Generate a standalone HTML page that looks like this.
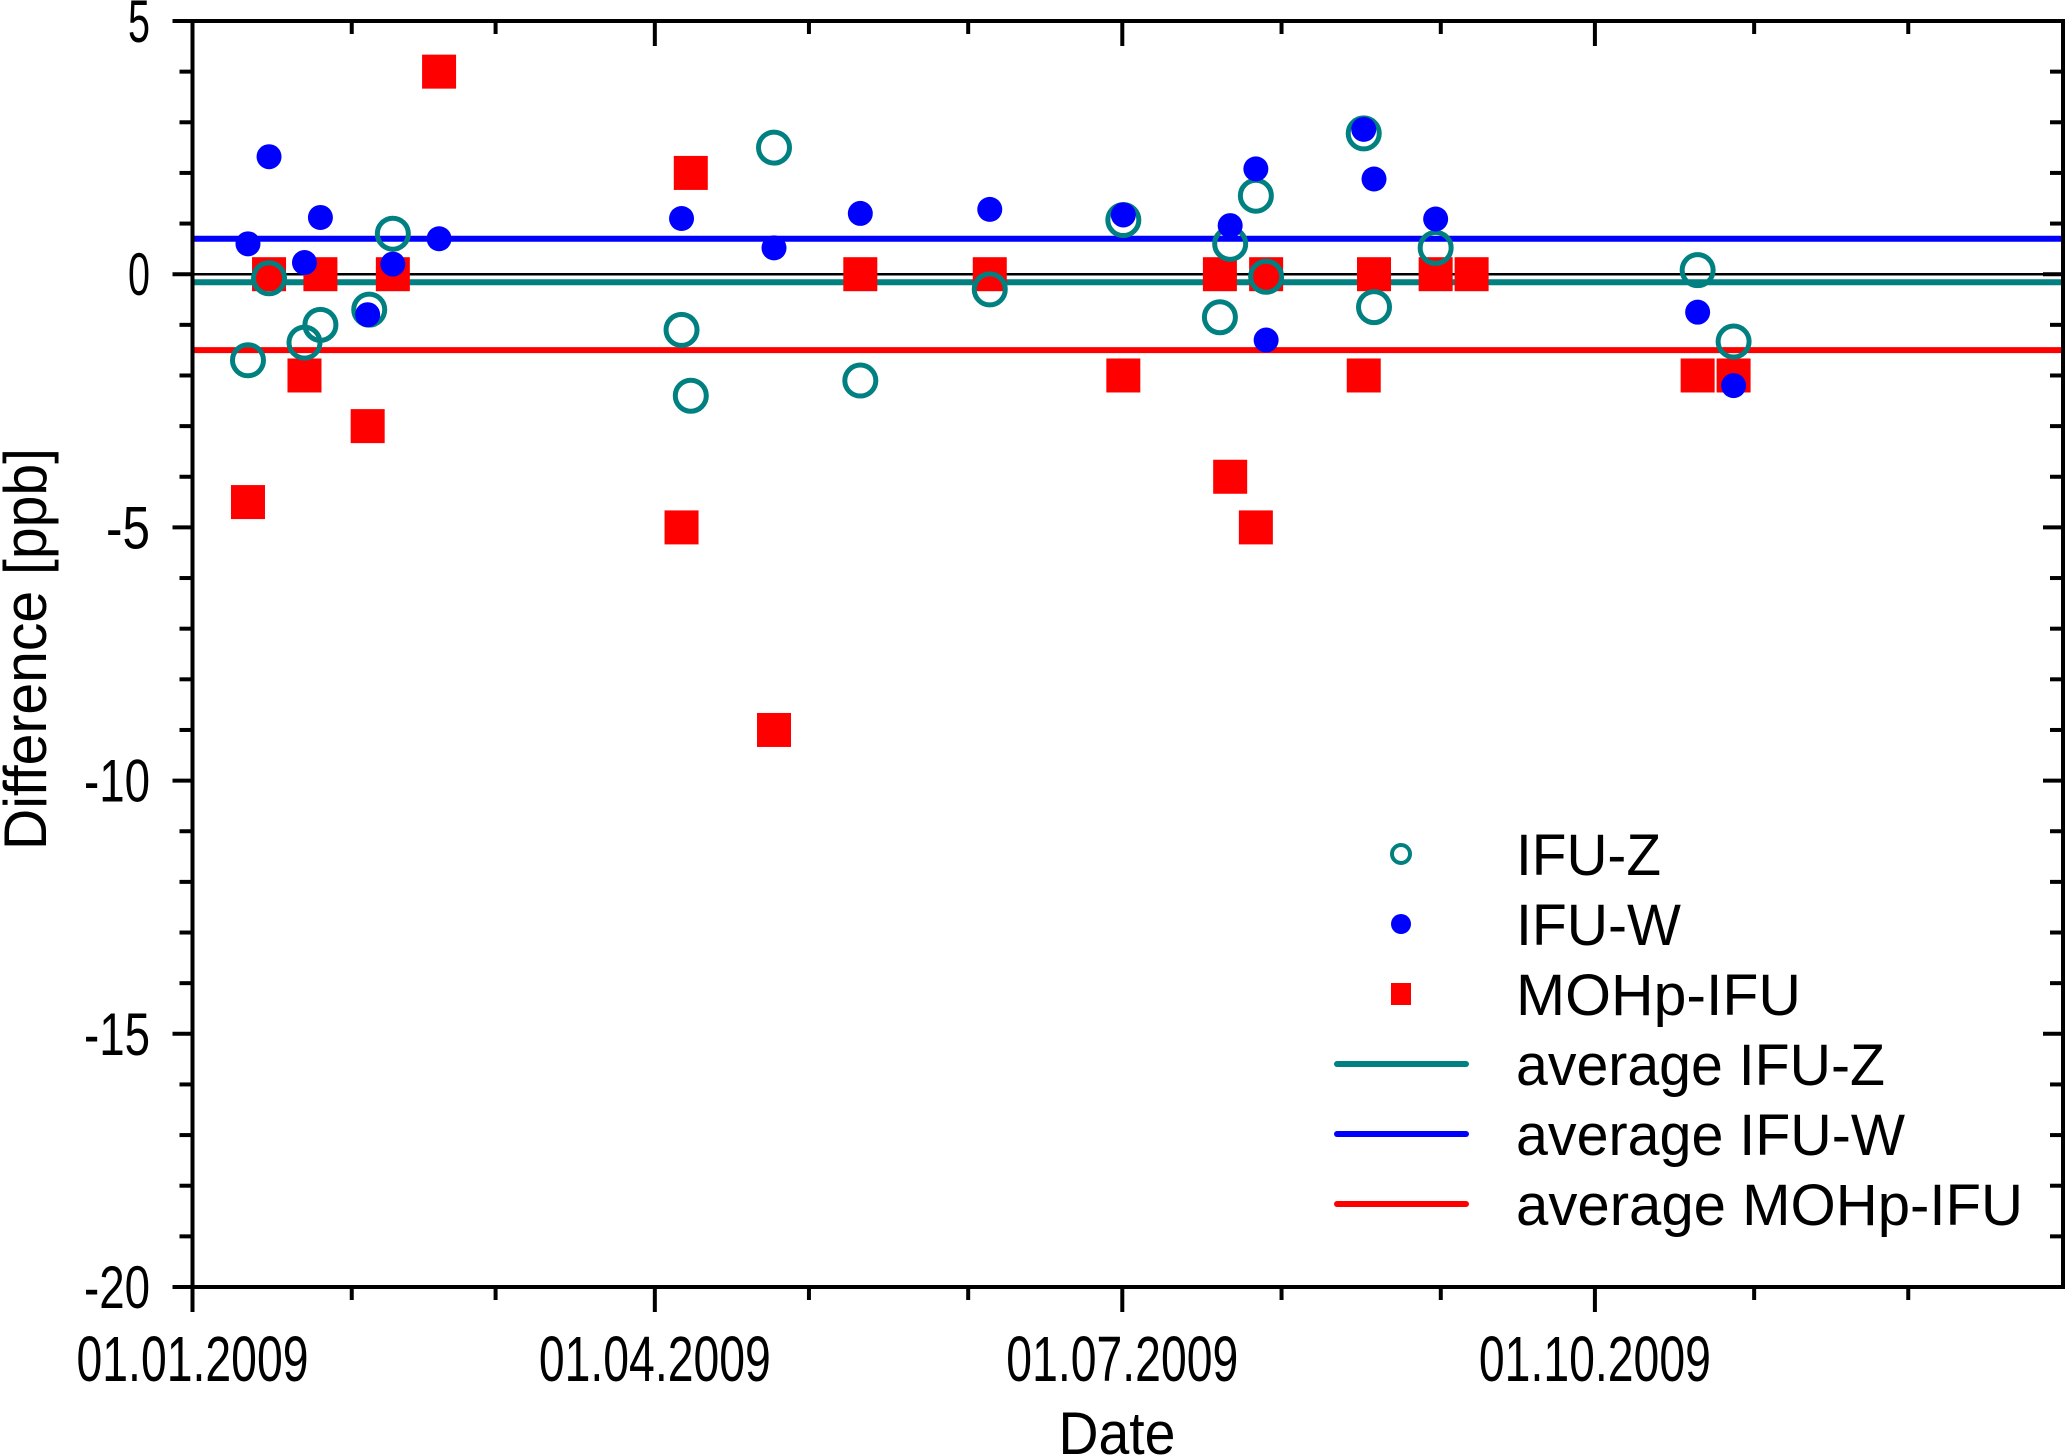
<!DOCTYPE html>
<html><head><meta charset="utf-8"><style>
html,body{margin:0;padding:0;background:#fff;}
svg{display:block;font-family:"Liberation Sans",Arial,sans-serif;}
</style></head><body>
<svg id="chart" width="2067" height="1456" viewBox="0 0 2067 1456" xmlns="http://www.w3.org/2000/svg">
<g id="grid"></g><g id="marks"></g><g id="axes"></g><g id="legend"></g>
</svg>
<script>
const yTicks=[5,0,-5,-10,-15,-20];
const xTickDays=[0,90,181,273];
const xTickLabels=["01.01.2009","01.04.2009","01.07.2009","01.10.2009"];
const monthDays=[31,59,120,151,212,243,304,334];
const zDays=[10.8,14.9,21.8,24.9,34.4,39,95.2,97,113.2,130,155.2,181.2,200,202,207,209,228,230,242,293,300];
const zVals=[-1.7,-0.08,-1.35,-1.0,-0.7,0.8,-1.1,-2.4,2.5,-2.1,-0.3,1.07,-0.85,0.6,1.55,-0.05,2.78,-0.65,0.52,0.08,-1.33];
const wDays=[10.8,14.9,21.8,24.9,34.1,39,48,95.2,113.2,130,155.2,181.2,202,207,209,228,230,242,293,300];
const wVals=[0.6,2.32,0.23,1.12,-0.8,0.2,0.7,1.1,0.52,1.2,1.28,1.17,0.96,2.08,-1.3,2.86,1.88,1.09,-0.75,-2.2];
const mDays=[10.8,14.9,21.8,24.9,34.1,39,48,95.2,97,113.2,130,155.2,181.2,200,202,207,209,228,230,242,249,293,300];
const mVals=[-4.5,0,-2,0,-3,0,4,-5,2,-9,0,0,-2,0,-4,-5,0,-2,0,0,0,-2,-2];
const avgZ=-0.16, avgW=0.7, avgM=-1.5;

const NS="http://www.w3.org/2000/svg";
const L=192.5,R=2063,T=21,B=1287;
const X=d=>L+d*5.137;
const Y=v=>T+(B-T)*(5-v)/25;
function mk(parent,tag,attrs,text){const e=document.createElementNS(NS,tag);for(const k in attrs)e.setAttribute(k,attrs[k]);if(text!==undefined)e.textContent=text;document.getElementById(parent).appendChild(e);return e;}

let e=mk("grid","line",{x1:L,x2:R,y1:Y(0),y2:Y(0),stroke:"#000","stroke-width":2.5});


e=mk("grid","line",{x1:L,x2:R,y1:Y(avgW),y2:Y(avgW),stroke:"#0000ff","stroke-width":6});


e=mk("grid","line",{x1:L,x2:R,y1:Y(avgZ),y2:Y(avgZ),stroke:"#008080","stroke-width":6});


e=mk("grid","line",{x1:L,x2:R,y1:Y(avgM),y2:Y(avgM),stroke:"#ff0000","stroke-width":6});



mDays.forEach((d,i)=>{const s=34;const r=mk("marks","rect",{x:X(d)-s/2,y:Y(mVals[i])-s/2,width:s,height:s,fill:"#ff0000"});

});
zDays.forEach((d,i)=>{const c=mk("marks","circle",{cx:X(d),cy:Y(zVals[i]),r:15.5,fill:"none",stroke:"#008080","stroke-width":5});

});
wDays.forEach((d,i)=>{const c=mk("marks","circle",{cx:X(d),cy:Y(wVals[i]),r:12.5,fill:"#0000ff"});

});

e=mk("axes","rect",{x:L,y:T,width:R-L,height:B-T,fill:"none",stroke:"#000","stroke-width":4});


for(let v=-20;v<=5;v++){const maj=v%5===0;const len=maj?20:13;
 let t=mk("axes","line",{x1:L-len,x2:L,y1:Y(v),y2:Y(v),stroke:"#000","stroke-width":4});
 
 
 t=mk("axes","line",{x1:R-len,x2:R,y1:Y(v),y2:Y(v),stroke:"#000","stroke-width":4});
 
 }
yTicks.forEach(v=>{const s=String(v);const t=mk("axes","text",{x:150,y:Y(v)+21,"text-anchor":"end","font-size":60,textLength:s.length===1?22:(s.length===2?44:66),lengthAdjust:"spacingAndGlyphs"},s);
 
 });
xTickDays.forEach((d,i)=>{let t=mk("axes","line",{x1:X(d),x2:X(d),y1:B,y2:B+25,stroke:"#000","stroke-width":4});
 
 
 t=mk("axes","line",{x1:X(d),x2:X(d),y1:T,y2:T+25,stroke:"#000","stroke-width":4});
 
 
 t=mk("axes","text",{x:X(d),y:1381,"text-anchor":"middle","font-size":64,textLength:232,lengthAdjust:"spacingAndGlyphs"},xTickLabels[i]);
 
 });
monthDays.forEach(d=>{let t=mk("axes","line",{x1:X(d),x2:X(d),y1:B,y2:B+13,stroke:"#000","stroke-width":4});
 
 
 t=mk("axes","line",{x1:X(d),x2:X(d),y1:T,y2:T+13,stroke:"#000","stroke-width":4});
 
 });
e=mk("axes","text",{x:1117,y:1454,"text-anchor":"middle","font-size":60,textLength:117,lengthAdjust:"spacingAndGlyphs"},"Date");


e=mk("axes","text",{x:0,y:0,"text-anchor":"middle","font-size":60,textLength:402,lengthAdjust:"spacingAndGlyphs",transform:"translate(46,649) rotate(-90)"},"Difference [ppb]");



const lg=[["IFU-Z",145,"oc"],["IFU-W",165,"fc"],["MOHp-IFU",285,"sq"],["average IFU-Z",369,"#008080"],["average IFU-W",389,"#0000ff"],["average MOHp-IFU",507,"#ff0000"]];
lg.forEach((r,i)=>{const cy=854+i*70;const sx=1401;
 let s;
 if(r[2]==="oc")s=mk("legend","circle",{cx:sx,cy:cy,r:9,fill:"none",stroke:"#008080","stroke-width":4});
 else if(r[2]==="fc")s=mk("legend","circle",{cx:sx,cy:cy,r:10,fill:"#0000ff"});
 else if(r[2]==="sq")s=mk("legend","rect",{x:sx-10,y:cy-11,width:20,height:22,fill:"#ff0000"});
 else s=mk("legend","line",{x1:1337,x2:1466,y1:cy,y2:cy,stroke:r[2],"stroke-width":6,"stroke-linecap":"round"});
 
 
 const t=mk("legend","text",{x:1516,y:cy+21,"font-size":58,textLength:r[1],lengthAdjust:"spacingAndGlyphs"},r[0]);
 
 });
</script>
</body></html>
